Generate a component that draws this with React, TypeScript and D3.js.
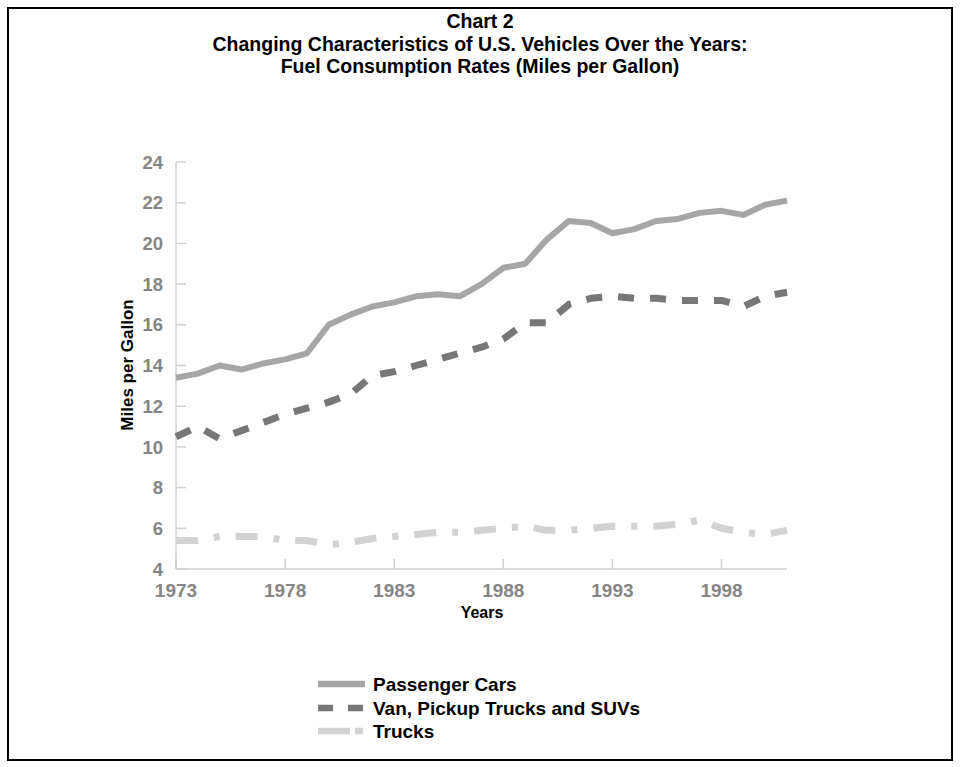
import React from "react";
import * as d3 from "d3";

const years = [1973,1974,1975,1976,1977,1978,1979,1980,1981,1982,1983,1984,1985,1986,1987,1988,1989,1990,1991,1992,1993,1994,1995,1996,1997,1998,1999,2000,2001];
const passengerCars = [13.4,13.6,14.0,13.8,14.1,14.3,14.6,16.0,16.5,16.9,17.1,17.4,17.5,17.4,18.0,18.8,19.0,20.2,21.1,21.0,20.5,20.7,21.1,21.2,21.5,21.6,21.4,21.9,22.1];
const vanPickupSuv = [10.5,11.0,10.4,10.8,11.2,11.6,11.9,12.2,12.6,13.5,13.7,14.0,14.3,14.6,14.9,15.3,16.1,16.1,17.0,17.3,17.4,17.3,17.3,17.2,17.2,17.2,16.9,17.4,17.6];
const trucks = [5.4,5.4,5.6,5.6,5.6,5.4,5.4,5.2,5.3,5.5,5.6,5.7,5.8,5.8,5.9,6.0,6.1,5.9,5.9,6.0,6.1,6.1,6.1,6.2,6.4,6.0,5.8,5.7,5.9];
const yTicks = [4,6,8,10,12,14,16,18,20,22,24];
const xTicks = [1973,1978,1983,1988,1993,1998];
const seriesNames = ["Passenger Cars","Van, Pickup Trucks and SUVs","Trucks"];
const titleLines = ["Chart 2","Changing Characteristics of U.S. Vehicles Over the Years:","Fuel Consumption Rates (Miles per Gallon)"];

const FONT = "'Liberation Sans', Arial, Helvetica, sans-serif";

export default function App() {
  const x = d3.scaleLinear().domain([1973, 2001]).range([176, 787]);
  const y = d3.scaleLinear().domain([4, 24]).range([569, 162]);
  const line = d3.line<number>().x((_, i) => x(years[i])).y((d) => y(d)).curve(d3.curveLinear);

  const styles = [
    { color: "#a6a6a6", width: 6, dash: undefined as string | undefined, legendDash: undefined as string | undefined },
    { color: "#777777", width: 7, dash: "16,16", legendDash: "15,15" },
    { color: "#d2d2d2", width: 7, dash: "22,16,6,16", legendDash: "32,5,8,20" },
  ];
  const data = [passengerCars, vanPickupSuv, trucks];
  const axisColor = "#d0d0d0";
  const tickColor = "#858585";

  return (
    <svg width={960} height={767} style={{ position: "absolute", left: 0, top: 0, background: "#fff" }} fontFamily={FONT}>
      <rect x={8} y={8} width={944} height={752} fill="#fff" stroke="#000" strokeWidth={2} />
      {titleLines.map((t, i) => (
        <text key={i} x={480} y={28 + i * 22.5} textAnchor="middle" fontSize={19.5} fontWeight="bold" fill="#000">{t}</text>
      ))}
      {/* axes */}
      <line x1={x(1973)} x2={x(1973)} y1={y(24)} y2={y(4)} stroke={axisColor} strokeWidth={1.5} />
      <line x1={x(1973)} x2={x(2001)} y1={y(4)} y2={y(4)} stroke={axisColor} strokeWidth={1.5} />
      {yTicks.map((t) => (
        <g key={t}>
          <line x1={x(1973)} x2={x(1973) + 10} y1={y(t)} y2={y(t)} stroke={axisColor} strokeWidth={1.5} />
          <text x={163} y={y(t)} dy="0.36em" textAnchor="end" fontSize={18.5} fontWeight="bold" fill={tickColor}>{t}</text>
        </g>
      ))}
      {xTicks.map((t) => (
        <g key={t}>
          <line x1={x(t)} x2={x(t)} y1={y(4)} y2={y(4) - 10} stroke={axisColor} strokeWidth={1.5} />
          <text x={x(t)} y={597} textAnchor="middle" fontSize={19} fontWeight="bold" fill={tickColor}>{t}</text>
        </g>
      ))}
      <text x={482} y={618} textAnchor="middle" fontSize={16} fontWeight="bold" fill="#000">Years</text>
      <text transform={`translate(133,365) rotate(-90)`} textAnchor="middle" fontSize={17} fontWeight="bold" fill="#000">Miles per Gallon</text>
      {/* series */}
      {data.map((d, i) => (
        <path key={i} d={line(d) || ""} fill="none" stroke={styles[i].color} strokeWidth={styles[i].width} strokeDasharray={styles[i].dash} strokeLinejoin="round" />
      ))}
      {/* legend */}
      {seriesNames.map((n, i) => {
        const cy = [684, 708, 731][i];
        return (
          <g key={n}>
            <line x1={318} x2={365} y1={cy} y2={cy} stroke={styles[i].color} strokeWidth={6.5} strokeDasharray={styles[i].legendDash} />
            <text x={373} y={cy + 6.5} fontSize={19} fontWeight="bold" fill="#000">{n}</text>
          </g>
        );
      })}
    </svg>
  );
}
